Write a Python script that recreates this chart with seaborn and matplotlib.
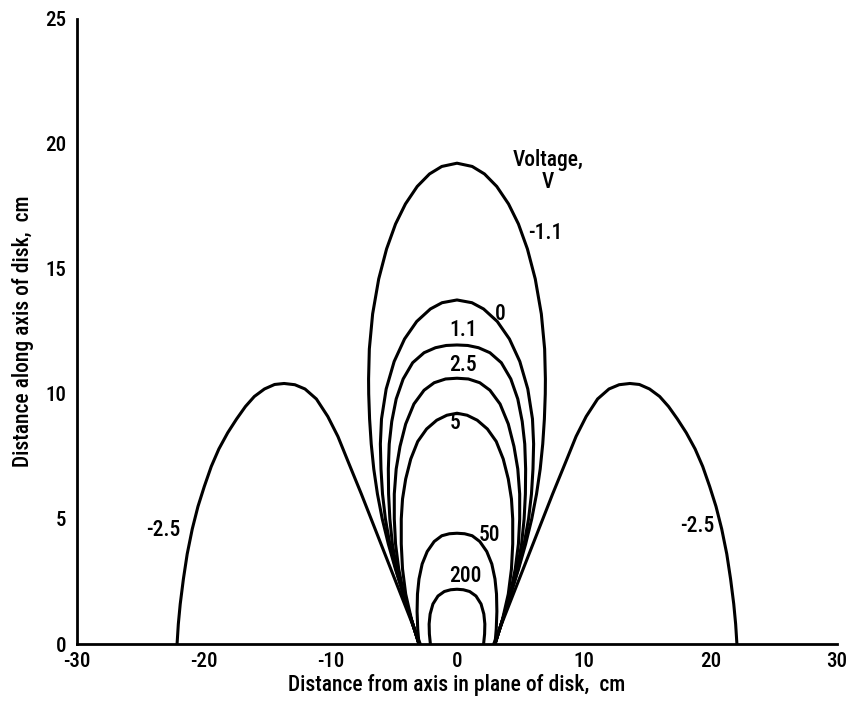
import matplotlib
matplotlib.use("Agg")
import matplotlib.pyplot as plt
import seaborn as sns
import pandas as pd

# ---- data (right half of each symmetric curve; cm) ----
curve_m1_1_x = [3.0, 3.62, 4.24, 4.86, 5.42, 5.9, 6.28, 6.57, 6.77, 6.9, 6.97, 6.98, 6.92, 6.66,
                6.18, 5.56, 4.85, 4.07, 3.14, 2.17, 1.2, 0.0]
curve_m1_1_y = [0.0, 1.0, 2.0, 3.0, 4.0, 5.0, 6.0, 7.0, 8.0, 9.0, 10.0, 10.6, 11.8, 13.2,
                14.6, 15.8, 16.8, 17.6, 18.3, 18.8, 19.1, 19.23]

curve_0_x = [3.0, 3.62, 4.24, 4.83, 5.3, 5.65, 5.88, 6.0, 6.05, 5.96, 5.59, 4.96, 4.14, 3.18,
             2.1, 1.18, 0.0]
curve_0_y = [0.0, 1.0, 2.0, 3.0, 4.0, 5.0, 6.0, 7.0, 8.0, 9.0, 10.2, 11.3, 12.2, 12.9,
             13.4, 13.65, 13.76]

curve_1_1_x = [3.0, 3.62, 4.22, 4.75, 5.1, 5.3, 5.4, 5.42, 5.35, 5.15, 4.8, 4.25, 3.5, 2.6,
               1.7, 0.85, 0.0]
curve_1_1_y = [0.0, 1.0, 2.0, 3.0, 4.0, 5.0, 6.0, 7.0, 8.0, 8.9, 9.8, 10.6, 11.25, 11.65,
               11.85, 11.94, 11.96]

curve_2_5_x = [3.0, 3.62, 4.2, 4.6, 4.85, 4.95, 4.95, 4.8, 4.5, 4.05, 3.4, 2.6, 1.8, 0.9, 0.0]
curve_2_5_y = [0.0, 1.0, 2.0, 3.0, 4.0, 5.0, 6.0, 7.0, 7.9, 8.8, 9.6, 10.15, 10.45, 10.6, 10.63]

curve_5_x = [3.0, 3.6, 4.05, 4.3, 4.4, 4.4, 4.3, 4.05, 3.65, 3.1, 2.4, 1.6, 0.8, 0.0]
curve_5_y = [0.0, 1.0, 2.0, 3.0, 4.0, 5.0, 5.8, 6.6, 7.4, 8.1, 8.6, 8.95, 9.15, 9.23]

curve_50_x = [3.0, 3.1, 3.15, 3.12, 3.0, 2.75, 2.35, 1.8, 1.2, 0.6, 0.0]
curve_50_y = [0.0, 0.6, 1.3, 2.0, 2.6, 3.2, 3.7, 4.1, 4.33, 4.41, 4.43]

curve_200_x = [2.1, 2.18, 2.2, 2.12, 1.9, 1.5, 1.0, 0.5, 0.0]
curve_200_y = [0.0, 0.4, 0.8, 1.2, 1.6, 1.92, 2.1, 2.17, 2.19]

# right-hand lobe for -2.5 V (left lobe is its mirror image)
lobe_x = [2.9, 4.45, 6.0, 7.55, 8.6, 9.4, 10.2, 11.1, 12.0, 12.8, 13.65, 14.4, 15.2, 16.0,
          16.7, 17.4, 18.1, 18.8, 19.4, 19.95, 20.45, 20.9, 21.3, 21.6, 21.85, 22.0, 22.1]
lobe_y = [0.0, 2.0, 4.0, 6.0, 7.3, 8.3, 9.1, 9.8, 10.2, 10.37, 10.42, 10.38, 10.2, 9.9,
          9.5, 9.0, 8.45, 7.8, 7.1, 6.3, 5.5, 4.6, 3.6, 2.6, 1.6, 0.8, 0.0]

labels_text = ["-1.1", "0", "1.1", "2.5", "5", "50", "200", "-2.5", "-2.5"]
labels_x = [5.6, 3.4, 0.5, 0.5, -0.15, 2.6, 0.63, -23.2, 19.0]
labels_y = [16.44, 13.2, 12.56, 11.16, 8.84, 4.36, 2.72, 4.56, 4.7]
labels_ha = ["left", "center", "center", "center", "center", "center", "center", "center", "center"]

x_ticks = [-30, -20, -10, 0, 10, 20, 30]
y_ticks = [0, 5, 10, 15, 20, 25]

# ---- build long table ----
rows = []
central = {
    "-1.1": (curve_m1_1_x, curve_m1_1_y),
    "0": (curve_0_x, curve_0_y),
    "1.1": (curve_1_1_x, curve_1_1_y),
    "2.5": (curve_2_5_x, curve_2_5_y),
    "5": (curve_5_x, curve_5_y),
    "50": (curve_50_x, curve_50_y),
    "200": (curve_200_x, curve_200_y),
}
for name, (xs, ys) in central.items():
    pts = [(-x, y) for x, y in zip(xs, ys)] + [(x, y) for x, y in zip(xs[::-1], ys[::-1])][1:]
    for i, (x, y) in enumerate(pts):
        rows.append({"curve": name, "order": i, "x": x, "y": y})
for i, (x, y) in enumerate(zip(lobe_x, lobe_y)):
    rows.append({"curve": "-2.5 right", "order": i, "x": x, "y": y})
    rows.append({"curve": "-2.5 left", "order": i, "x": -x, "y": y})
df = pd.DataFrame(rows)

sns.set_theme(style="white")
plt.rcParams["font.family"] = ["Roboto Condensed", "DejaVu Sans Condensed", "Roboto", "DejaVu Sans"]
plt.rcParams["font.stretch"] = "condensed"
plt.rcParams["font.weight"] = "medium"
plt.rcParams["axes.labelweight"] = "medium"

fig = plt.figure(figsize=(8.48, 7.01), dpi=100)
ax = fig.add_axes([0.0908, 0.0813, 0.8962, 0.8917])

for name, sub in df.groupby("curve", sort=False):
    sns.lineplot(data=sub, x="x", y="y", sort=False, estimator=None, color="black",
                 linewidth=2.2, ax=ax, legend=False)

for t, x, y, ha in zip(labels_text, labels_x, labels_y, labels_ha):
    ax.text(x, y, t, ha=ha, va="center", fontsize=15.5, color="black", fontweight="medium")
ax.text(7.2, 18.9, "Voltage,\nV", ha="center", va="center", fontsize=15.5, color="black",
        linespacing=1.0, fontweight="medium")

ax.set_xlim(-30, 30)
ax.set_ylim(0, 25)
ax.set_xticks(x_ticks)
ax.set_yticks(y_ticks)
ax.set_xticklabels([str(v) for v in x_ticks])
ax.set_yticklabels([str(v) for v in y_ticks])
ax.tick_params(direction="in", length=17, width=1.6, labelsize=15, colors="black")
ax.tick_params(axis="x", pad=6)
ax.tick_params(axis="y", pad=8)
ax.set_xlabel("Distance from axis in plane of disk,  cm", fontsize=15.5, labelpad=2,
              fontweight="medium", color="black")
ax.set_ylabel("Distance along axis of disk,  cm", fontsize=15.5, labelpad=8,
              fontweight="medium", color="black")

for side in ["top", "right"]:
    ax.spines[side].set_visible(False)
for side in ["left", "bottom"]:
    ax.spines[side].set_color("black")
    ax.spines[side].set_linewidth(2.0)
ax.set_facecolor("white")
fig.patch.set_facecolor("white")

fig.savefig("out.png", dpi=100, facecolor="white")
